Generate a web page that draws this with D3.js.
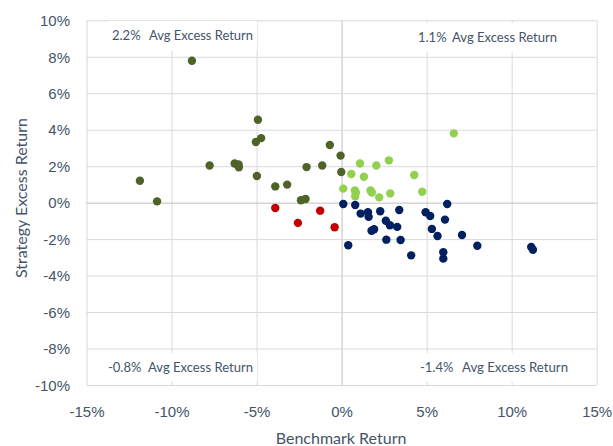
<!DOCTYPE html>
<html>
<head>
<meta charset="utf-8">
<script src="https://cdn.jsdelivr.net/npm/d3@7"></script>
<style>
  body { margin: 0; background: #fff; }
  svg { display: block; font-family: Lato, "Open Sans", sans-serif; }
</style>
</head>
<body>
<div class="graph"></div>
<script>
// benchmark return (%) vs strategy excess return (%), one array per quadrant
const upDownPoints = [   // benchmark down, strategy beat it
  [-8.8, 7.78], [-11.86, 1.2], [-10.85, 0.07], [-7.76, 2.04], [-6.29, 2.15],
  [-6.06, 2.1], [-6.04, 1.94], [-4.92, 4.55], [-5.04, 3.33], [-4.73, 3.54],
  [-4.98, 1.46], [-3.9, 0.89], [-3.2, 0.99], [-2.06, 1.95], [-2.39, 0.13],
  [-2.12, 0.2], [-1.14, 2.04], [-0.69, 3.16], [-0.06, 2.58], [-0.02, 1.68]
];
const upUpPoints = [     // benchmark up, strategy beat it
  [6.6, 3.8], [1.08, 2.15], [2.04, 2.04], [2.78, 2.32], [0.57, 1.57],
  [1.31, 1.42], [4.27, 1.52], [0.1, 0.77], [0.78, 0.67], [0.84, 0.56],
  [0.8, 0.35], [1.7, 0.67], [1.78, 0.56], [2.21, 0.29], [2.86, 0.51], [4.74, 0.6]
];
const downDownPoints = [ // benchmark down, strategy lagged
  [-3.9, -0.29], [-2.57, -1.11], [-1.26, -0.44], [-0.41, -1.35]
];
const downUpPoints = [   // benchmark up, strategy lagged
  [0.1, -0.07], [0.8, -0.13], [1.12, -0.6], [1.55, -0.53], [1.59, -0.78],
  [2.27, -0.47], [3.39, -0.4], [4.94, -0.53], [5.21, -0.73], [6.21, -0.07],
  [6.08, -0.93], [2.6, -0.99], [2.84, -1.24], [3.27, -1.33], [1.76, -1.54],
  [1.91, -1.46], [2.63, -2.03], [3.47, -2.05], [5.31, -1.44], [5.64, -1.83],
  [7.08, -1.77], [0.39, -2.34], [4.09, -2.89], [5.98, -2.72], [5.98, -3.07],
  [7.98, -2.36], [11.15, -2.43], [11.25, -2.58]
];

const xTicks = [-15, -10, -5, 0, 5, 10, 15];
const yTicks = [-10, -8, -6, -4, -2, 0, 2, 4, 6, 8, 10];
const avgLabels = ["2.2%", "1.1%", "-0.8%", "-1.4%"];

let width = 613;
let height = 446;
let plotLeft = 86.5, plotRight = 596.7, plotTop = 20.3, plotBottom = 385;

let svg = d3.select(".graph").append("svg")
  .attr("width", width)
  .attr("height", height);

let x = d3.scaleLinear().domain([-15, 15]).range([plotLeft, plotRight]);
let y = d3.scaleLinear().domain([-10, 10]).range([plotBottom, plotTop]);

let textColor = "#44546a";

// vertical grid + x tick labels
let xAxis = svg.append("g")
  .attr("transform", "translate(0," + plotBottom + ")")
  .call(d3.axisBottom(x).tickValues(xTicks).tickSize(-(plotBottom - plotTop)).tickFormat(d => d + "%"));
xAxis.select(".domain").remove();
xAxis.selectAll("line").attr("stroke", d => d === 0 ? "#bfbfbf" : "#d9d9d9");
xAxis.selectAll("text")
  .attr("y", 27).attr("dy", "0.35em")
  .attr("fill", textColor).style("font-size", "15px");

// horizontal grid + y tick labels
let yAxis = svg.append("g")
  .attr("transform", "translate(" + plotLeft + ",0)")
  .call(d3.axisLeft(y).tickValues(yTicks).tickSize(-(plotRight - plotLeft)).tickFormat(d => d + "%"));
yAxis.select(".domain").remove();
yAxis.selectAll("line").attr("stroke", d => d === 0 ? "#bfbfbf" : "#d9d9d9");
yAxis.selectAll("text")
  .attr("x", -16.5).attr("dy", "0.35em")
  .attr("fill", textColor).style("font-size", "15px");

// quadrant average labels, white boxes hide the grid behind them
let labelPos = [
  { vx: 112, tx: 149, cy: 35, end: 253 },
  { vx: 418, tx: 452, cy: 37, end: 557 },
  { vx: 108, tx: 148, cy: 367, end: 253 },
  { vx: 420, tx: 462, cy: 367, end: 568 }
];
let labels = svg.selectAll(null).data(avgLabels).enter().append("g");
labels.append("rect")
  .attr("x", (d, i) => labelPos[i].vx - 4)
  .attr("y", (d, i) => labelPos[i].cy - 14)
  .attr("width", (d, i) => labelPos[i].end - labelPos[i].vx + 8)
  .attr("height", 29)
  .attr("fill", "#fff");
labels.append("text")
  .attr("x", (d, i) => labelPos[i].vx)
  .attr("y", (d, i) => labelPos[i].cy)
  .attr("dy", "0.35em")
  .attr("fill", textColor)
  .style("font-size", "13px")
  .text(d => d);
labels.append("text")
  .attr("x", (d, i) => labelPos[i].tx)
  .attr("y", (d, i) => labelPos[i].cy)
  .attr("dy", "0.35em")
  .attr("fill", textColor)
  .style("font-size", "13px")
  .attr("textLength", (d, i) => labelPos[i].end - labelPos[i].tx)
  .attr("lengthAdjust", "spacingAndGlyphs")
  .text("Avg Excess Return");

// points
let groups = [
  { data: upDownPoints, color: "#4f6228" },
  { data: upUpPoints, color: "#92d050" },
  { data: downDownPoints, color: "#c00000" },
  { data: downUpPoints, color: "#002060" }
];
groups.forEach(function(g) {
  svg.append("g").selectAll("circle")
    .data(g.data)
    .enter().append("circle")
    .attr("cx", d => x(d[0]))
    .attr("cy", d => y(d[1]))
    .attr("r", 4.2)
    .attr("fill", g.color);
});

// axis titles
svg.append("text")
  .attr("x", (plotLeft + plotRight) / 2 - 0.5)
  .attr("y", 438)
  .attr("dy", "0.35em")
  .attr("text-anchor", "middle")
  .attr("fill", textColor)
  .style("font-size", "16px")
  .text("Benchmark Return");

svg.append("text")
  .attr("transform", "translate(21," + 198 + ") rotate(-90)")
  .attr("dy", "0.35em")
  .attr("text-anchor", "middle")
  .attr("fill", textColor)
  .style("font-size", "16px")
  .text("Strategy Excess Return");
</script>
</body>
</html>
